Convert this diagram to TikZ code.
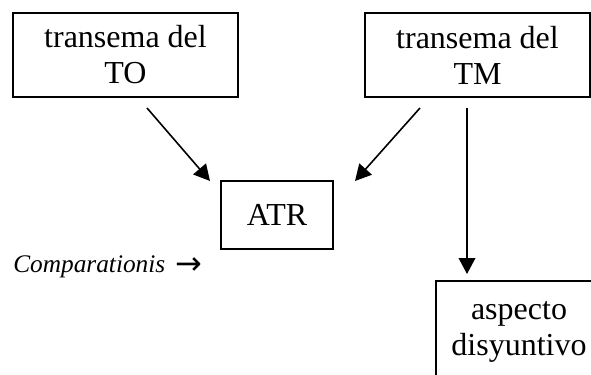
\documentclass[tikz,border=0pt]{standalone}
\usepackage{fontspec}
\setmainfont{Liberation Serif}
\newfontfamily\arrowfont{DejaVu Sans}
\usetikzlibrary{arrows.meta}
\begin{document}
\begin{tikzpicture}[x=0.75pt,y=-0.75pt,
  boxtext/.style={inner sep=0pt,align=center,font=\fontsize{24}{27}\selectfont},
  box/.style={boxtext,draw,line width=1.5pt},
  conn/.style={line width=1.2pt,-{Triangle[length=12pt,width=12.5pt]}}]
\useasboundingbox (0,0) rectangle (591,374);
\node[box,minimum width=168.75pt,minimum height=63pt] (to) at (125.5,55) {transema del\\TO};
\node[box,minimum width=168.75pt,minimum height=63pt] (tm) at (477.5,55) {transema del\\TM};
\node[box,minimum width=84pt,minimum height=51pt] (atr) at (277,215) {ATR};
\draw[line width=1.5pt] (600,281) -- (436,281) -- (436,380);
\node[boxtext] (asp) at (519,332) {aspecto\\disyuntivo};
\node[inner sep=0pt,anchor=base west,font=\fontsize{19}{22}\selectfont] (comp) at (13,272) {\itshape Comparationis\hspace{8pt}{\upshape\arrowfont\fontsize{24}{26}\selectfont\raisebox{-2pt}{→}}};
\coordinate (s1) at (147,108);
\coordinate (e1) at (210,181);
\coordinate (s2) at (420,108);
\coordinate (e2) at (355,181);
\coordinate (s3) at (467,108);
\coordinate (e3) at (467,274);
\draw[conn] (s1) -- (e1);
\draw[conn] (s2) -- (e2);
\draw[conn] (s3) -- (e3);
\end{tikzpicture}
\end{document}
